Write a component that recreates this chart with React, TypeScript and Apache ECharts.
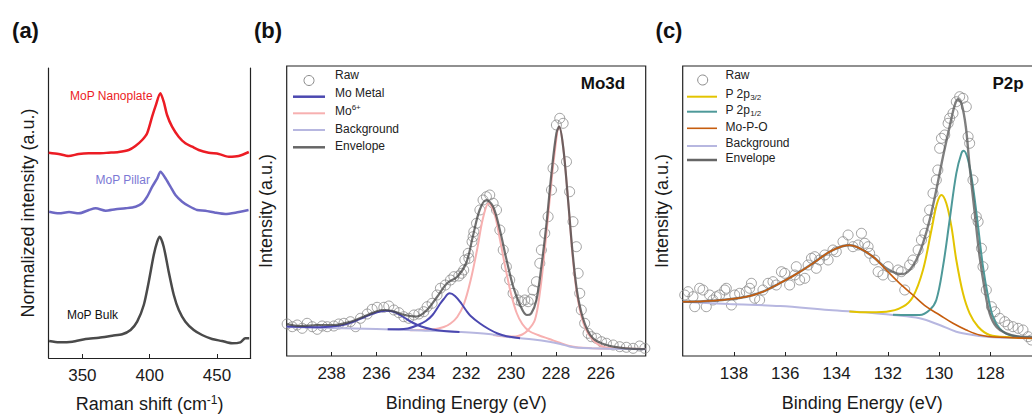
import React, { useEffect, useRef } from 'react';
import * as echarts from 'echarts';

const FONT = '"Liberation Sans", Arial, Helvetica, sans-serif';

// ---------- Panel (a): Raman ----------
const ramanTicks = [350, 400, 450];
const nanoShift = [325, 332.4, 339.8, 347.3, 354.7, 362.1, 369.5, 377, 384.4, 389.4, 394.4, 398.1, 401.8, 404.2, 407.9, 410.4, 412.9, 416.6, 421.5, 426.5, 431.5, 436.4, 443.8, 451.3, 458.7, 466.1, 473.6];
const nanoInt = [205.3, 204, 202, 204, 204.7, 204.7, 205.3, 206, 208, 212, 218, 224.7, 241.3, 251.3, 264.7, 256.3, 243, 231.3, 221.3, 214.7, 211.3, 208, 205.3, 204, 201.3, 202, 206];
const pillarShift = [325.3, 332.7, 340.1, 347.5, 354.9, 359.9, 367.3, 374.7, 382.1, 389.5, 394.4, 398.1, 401.9, 405.6, 408, 411.7, 415.4, 419.1, 424.1, 429, 435.2, 441.3, 448.7, 456.1, 463.6, 473.4];
const pillarInt = [146.3, 144.7, 146, 144.7, 148, 149.7, 147.3, 148.7, 149.7, 151.3, 154.7, 161.3, 171.3, 179.7, 186.3, 179.7, 171.3, 163, 156.3, 152, 148, 147.3, 145.3, 144, 145.3, 148];
const bulkShift = [325.3, 332.7, 342.6, 352.4, 362.3, 372.2, 379.6, 385.8, 390.7, 395.6, 399.3, 403, 405.6, 407.5, 410.4, 414.1, 417.9, 421.6, 426.5, 432.7, 438.9, 446.3, 453.7, 461.1, 467.3, 471, 473.9];
const bulkInt = [17, 15.7, 16.3, 19, 20.3, 22.3, 23.7, 28, 36.3, 53, 76.3, 103, 116.3, 121.3, 111.3, 86.3, 63, 48, 36.3, 28, 23, 19, 17, 14.7, 15.7, 19.7, 19.7];

// ---------- Panel (b): Mo3d ----------
const mo3dTicks = [226, 228, 230, 232, 234, 236, 238];
const rawMoBE = [239.98, 239.75, 239.53, 239.31, 239.09, 238.86, 238.64, 238.42, 238.19, 237.9, 237.68, 237.45, 237.16, 236.93, 236.71, 236.41, 236.19, 235.97, 235.67, 235.45, 235.22, 235.0, 234.78, 234.56, 234.33, 234.11, 233.89, 233.74, 233.52, 233.3, 233.15, 232.93, 232.7, 232.55, 232.33, 232.21, 232.11, 232.06, 231.91, 231.88, 231.74, 231.69, 231.66, 231.54, 231.39, 231.25, 231.1, 230.95, 230.8, 230.65, 230.5, 230.35, 230.21, 230.06, 229.91, 229.69, 229.54, 229.39, 229.24, 229.09, 229.02, 228.87, 228.72, 228.65, 228.5, 228.35, 228.2, 228.13, 227.98, 227.83, 227.68, 227.53, 227.39, 227.24, 227.09, 227.01, 226.94, 226.87, 226.72, 226.57, 226.42, 226.2, 225.97, 225.75, 225.45, 225.16, 224.86, 224.56, 224.27, 224.04];
const rawMoInt = [32, 29.3, 31, 27.7, 32.7, 29.3, 26.7, 30, 29.3, 30, 32, 32.7, 34.3, 29.3, 37.7, 42, 46.7, 48.7, 48.7, 50, 46, 43.3, 39.3, 37.7, 41, 42, 44.3, 49.3, 52.7, 61, 67.7, 71, 76, 79.3, 80, 82.7, 86, 96, 102.7, 97.7, 114.3, 119.3, 124.3, 132.7, 146, 156, 159.3, 161, 152.7, 146, 126, 106, 89.3, 76, 62.7, 56, 54.3, 56, 54.3, 56.7, 66, 74.3, 92.7, 106, 122.7, 139.3, 166, 187.7, 231, 237.7, 232.7, 194.3, 164.3, 134.3, 109.3, 82.7, 62.7, 46, 32.7, 22.7, 19.3, 17.7, 14.3, 12.7, 11, 9.3, 8.7, 7.7, 10, 7.7];
const bgMoBE = [240, 238, 236, 234, 232.3, 231, 230, 229, 228.3, 227.8, 227.4, 227, 226.4, 225, 224];
const bgMoInt = [29, 28, 27, 25.5, 24, 22, 18.7, 16.5, 14.3, 12, 9.5, 8.3, 7.7, 7, 6.8];
const metalA_BE = [240, 238.5, 238, 237.5, 237, 236.5, 236, 235.6, 235.2, 234.8, 234.4, 234, 233.5, 233, 232.3];
const metalA_Int = [29.5, 28.8, 29.5, 31, 34.5, 39.3, 43.5, 45.3, 44, 39, 33.5, 29.5, 26.5, 25, 24];
const metalB_BE = [235.5, 235, 234.6, 234.2, 233.8, 233.5, 233.2, 233, 232.74, 232.5, 232.2, 232, 231.8, 231.4, 231, 230.6, 230.2, 229.6];
const metalB_Int = [26.7, 26.7, 27.5, 30.5, 35, 41, 51, 57, 62.7, 60, 52, 45.5, 40, 32.7, 27, 22.5, 19.8, 17.8];
const mo6A_BE = [234.5, 234, 233.5, 233, 232.7, 232.4, 232.1, 231.8, 231.5, 231.25, 231.0, 230.75, 230.5, 230.25, 230.0, 229.75, 229.5, 229.2, 228.8, 228.3, 227.8, 227.4, 227, 226.4, 225.6];
const mo6A_Int = [25.8, 26, 26.5, 29, 32.5, 39, 52, 76, 108, 138, 152.7, 143, 117, 88, 62, 43, 32, 25, 21, 17, 13, 10, 8.5, 7.8, 7.2];
const mo6B_BE = [230.8, 230.3, 229.8, 229.5, 229.24, 228.94, 228.72, 228.5, 228.28, 228.06, 227.86, 227.68, 227.46, 227.24, 227.02, 226.72, 226.35, 225.9, 225.2, 224];
const mo6B_Int = [21, 19.6, 19.6, 21.5, 26, 36, 62.7, 106, 156, 202.7, 229.3, 209.3, 156, 96, 56, 29.3, 16, 9.3, 7.7, 7];
const envMoBE = [240, 239.4, 238.6, 237.9, 237.15, 236.4, 235.7, 235.3, 234.9, 234.5, 234.2, 233.75, 233.3, 232.85, 232.4, 232.0, 231.7, 231.4, 231.1, 230.8, 230.5, 230.2, 229.9, 229.6, 229.3, 229.1, 228.87, 228.65, 228.42, 228.2, 227.98, 227.86, 227.68, 227.46, 227.24, 227.02, 226.72, 226.35, 225.75, 224.9, 224];
const envMoInt = [32, 30, 31, 31, 34.3, 41, 46, 45, 42, 40, 39.5, 46, 59, 72.7, 79.3, 93, 120, 146, 156, 149.3, 126, 96, 69, 51, 41, 42.7, 56, 89.3, 132.7, 182.7, 222.7, 229.3, 209.3, 156, 99.3, 59.3, 32.7, 17.7, 11, 7.7, 7];

// ---------- Panel (c): P2p ----------
const p2pTicks = [128, 130, 132, 134, 136, 138];
const rawPBE = [140.05, 139.92, 139.79, 139.6, 139.53, 139.34, 139.21, 139.08, 138.95, 138.82, 138.69, 138.56, 138.36, 138.3, 138.1, 137.97, 137.78, 137.52, 137.39, 137.32, 137.19, 137.0, 136.87, 136.67, 136.48, 136.35, 136.15, 136.02, 135.83, 135.63, 135.57, 135.44, 135.24, 135.11, 134.98, 134.85, 134.79, 134.66, 134.46, 134.33, 134.14, 134.01, 133.75, 133.55, 133.36, 133.16, 133.03, 132.9, 132.77, 132.71, 132.51, 132.38, 132.19, 131.99, 131.8, 131.6, 131.47, 131.34, 131.15, 131.02, 130.82, 130.69, 130.56, 130.43, 130.37, 130.24, 130.11, 130.05, 129.98, 129.91, 129.78, 129.65, 129.59, 129.46, 129.33, 129.2, 129.07, 128.94, 128.87, 128.81, 128.68, 128.55, 128.48, 128.35, 128.29, 128.16, 127.96, 127.83, 127.64, 127.44, 127.31, 127.12, 126.92, 126.73, 126.53, 126.4];
const rawPInt = [46, 61, 64.3, 59.3, 49.3, 67.7, 66, 49.3, 61, 56, 59.3, 61, 66, 67.7, 51, 61, 62.7, 64.3, 67.7, 72.7, 57.7, 56, 66, 72.7, 74.3, 71, 84.3, 82.7, 71, 81, 89.3, 76, 77.7, 91, 97.7, 99.3, 87.7, 96, 101, 96, 106, 104.3, 114.3, 121, 109.3, 111, 122.7, 112.7, 109.3, 102.7, 96, 84.3, 81, 89.3, 79.3, 86, 84.3, 66, 91, 96, 106, 116, 122.7, 136, 146, 162.7, 176, 186, 207.7, 217.7, 221, 232.7, 237.7, 242.7, 254.3, 259.3, 257.7, 249.3, 219.3, 212.7, 176, 139.3, 134.3, 107.7, 89.3, 66, 49.3, 44.3, 37.7, 34.3, 31, 29.3, 27.7, 26, 19.3, 16];
const bgPBE = [140, 138.2, 136.2, 134.3, 132.7, 131.8, 130.76, 129.98, 129.33, 128.68, 127.9, 126];
const bgPInt = [54.3, 52, 50, 46, 43.3, 41, 37.7, 31, 24.3, 21, 18.7, 17.7];
const p32BE = [133.5, 133, 132.06, 131.41, 131.02, 130.63, 130.3, 130.08, 129.91, 129.72, 129.52, 129.33, 129.07, 128.81, 128.48, 128.03, 127.25, 126];
const p32Int = [44.6, 43.8, 44.3, 49.3, 59.3, 86, 126, 152.7, 161, 152.7, 129.3, 96, 62.7, 42.7, 29.3, 21, 18.7, 17.7];
const p12BE = [131.8, 130.76, 130.37, 130.11, 129.85, 129.59, 129.33, 129.13, 129.04, 128.87, 128.68, 128.48, 128.29, 128.09, 127.9, 127.64, 127.25, 126];
const p12Int = [41.3, 41, 46, 56, 89.3, 136, 182.7, 202.7, 205.3, 196, 169.3, 129.3, 89.3, 59.3, 39.3, 27.7, 21, 17.7];
const mpoBE = [140, 138.82, 137.52, 136.87, 136.22, 135.57, 134.92, 134.27, 133.75, 133.49, 133.1, 132.58, 132.06, 131.54, 131.02, 130.5, 129.98, 129.46, 128.94, 128.42, 127.64, 126];
const mpoInt = [54.3, 55.3, 59.3, 64.3, 72.7, 82, 92.7, 104.3, 110, 110.7, 107.7, 99.3, 86, 72.7, 61, 49.3, 41, 32.7, 26, 21, 18.7, 17.7];
const envPBE = [140, 138.82, 137.52, 136.87, 136.22, 135.57, 134.92, 134.27, 133.75, 133.49, 133.1, 132.58, 132.06, 131.67, 131.41, 131.15, 130.89, 130.63, 130.37, 130.11, 129.85, 129.59, 129.39, 129.26, 129.13, 128.96, 128.81, 128.61, 128.42, 128.22, 128.03, 127.77, 127.38, 126.86, 126];
const envPInt = [54.3, 55.3, 59.3, 64.3, 72.7, 82, 92.7, 104.3, 110, 110.7, 107.7, 99.3, 87.7, 82.7, 82, 86, 96, 112.7, 136, 166, 199.3, 229.3, 251, 256.7, 252.7, 229.3, 189.3, 142.7, 99.3, 66, 42.7, 29.3, 22.7, 19.3, 18.7];

const zip = (xs: number[], ys: number[]) => xs.map((x, i) => [x, ys[i]]);

const C = {
  red: '#ec1c24', pillar: '#6d68c4', bulk: '#4a4a4a',
  metal: '#4b48b0', mo6: '#f7b0b0', bg: '#b7b7e0', envB: 'rgba(70,70,70,0.78)', envC: 'rgba(95,95,95,0.8)',
  p32: '#e3c400', p12: '#4e9999', mpo: '#c65d0e', raw: '#8a8a8a', axis: '#222',
};

function buildOption() {
  const tickLabel = { fontSize: 17, color: '#1a1a1a', fontFamily: FONT, margin: 9 };
  const nameStyle = { fontSize: 18, color: '#1a1a1a', fontFamily: FONT };
  const hiddenY = (gridIndex: number, name?: string, gap?: number, line?: boolean) => ({
    type: 'value', gridIndex, min: 0, max: 290,
    axisLine: { show: !!line, lineStyle: { color: C.axis, width: 1.2 } },
    axisTick: { show: false }, axisLabel: { show: false }, splitLine: { show: false },
    name, nameLocation: 'middle', nameGap: gap, nameTextStyle: nameStyle,
  });
  const line = (name: string, xi: number, data: number[][], color: string, width: number, smooth = 0.35) => ({
    type: 'line', name, xAxisIndex: xi, yAxisIndex: xi === 0 ? 0 : xi + 1, data,
    showSymbol: false, symbol: 'none', smooth, lineStyle: { color, width }, silent: true,
  });
  const raw = (xi: number, data: number[][]) => ({
    type: 'scatter', name: 'Raw', xAxisIndex: xi, yAxisIndex: xi + 1, data, symbol: 'circle', symbolSize: 10,
    itemStyle: { color: 'rgba(0,0,0,0)', borderColor: C.raw, borderWidth: 1 }, silent: true,
  });
  const legendText = (x: number, y: number, text: string, rich?: any) => ({
    type: 'text', x, y,
    style: { text, fill: '#222', fontSize: 12, fontFamily: FONT, textVerticalAlign: 'middle', rich },
  });
  const legendLine = (x1: number, x2: number, y: number, stroke: string, w: number) => ({
    type: 'line', shape: { x1, y1: y, x2, y2: y }, style: { stroke, lineWidth: w },
  });
  const subRich = {
    n: { fontSize: 12, fontFamily: FONT, fill: '#222', lineHeight: 15 },
    s: { fontSize: 8, fontFamily: FONT, fill: '#222', verticalAlign: 'bottom', lineHeight: 15 },
  };
  const supRich = {
    n: { fontSize: 12, fontFamily: FONT, fill: '#222', lineHeight: 15 },
    s: { fontSize: 8, fontFamily: FONT, fill: '#222', verticalAlign: 'top', lineHeight: 15 },
  };
  const bold = (x: number, y: number, text: string, size: number) => ({
    type: 'text', x, y,
    style: { text, fontSize: size, fontWeight: 'bold', fontFamily: FONT, fill: '#111', textAlign: 'center', textVerticalAlign: 'middle' },
  });
  const note = (x: number, y: number, text: string, fill: string) => ({
    type: 'text', x, y,
    style: { text, fontSize: 12, fontFamily: FONT, fill, textAlign: 'center', textVerticalAlign: 'middle' },
  });

  return {
    animation: false,
    backgroundColor: '#ffffff',
    grid: [
      { left: 48.7, top: 68, width: 202, height: 290, outerBoundsMode: 'none', containLabel: false },
      { left: 286.7, top: 66, width: 359, height: 290, show: true, borderColor: C.axis, borderWidth: 1.2, outerBoundsMode: 'none', containLabel: false },
      { left: 682.7, top: 66, width: 359, height: 290, show: true, borderColor: C.axis, borderWidth: 1.2, outerBoundsMode: 'none', containLabel: false },
    ],
    xAxis: [
      {
        type: 'value', gridIndex: 0, min: 325, max: 475,
        axisLine: { show: true, onZero: false, lineStyle: { color: C.axis, width: 1.2 } },
        axisTick: { show: true, inside: true, length: 4, customValues: ramanTicks, lineStyle: { color: C.axis } },
        axisLabel: { ...tickLabel, customValues: ramanTicks },
        splitLine: { show: false },
        name: 'Raman shift (cm{sup|-1})', nameLocation: 'middle', nameGap: 36,
        nameTextStyle: { ...nameStyle, lineHeight: 20, rich: { sup: { fontSize: 12, fontFamily: FONT, color: '#1a1a1a', verticalAlign: 'top', lineHeight: 20 } } },
      },
      {
        type: 'value', gridIndex: 1, min: 224, max: 240, inverse: true,
        axisLine: { show: false },
        axisTick: { show: true, inside: true, length: 4, customValues: mo3dTicks, lineStyle: { color: C.axis } },
        axisLabel: { ...tickLabel, customValues: mo3dTicks },
        splitLine: { show: false },
        name: 'Binding Energy (eV)', nameLocation: 'middle', nameGap: 38, nameTextStyle: nameStyle,
      },
      {
        type: 'value', gridIndex: 2, min: 126, max: 140, inverse: true,
        axisLine: { show: false },
        axisTick: { show: true, inside: true, length: 4, customValues: p2pTicks, lineStyle: { color: C.axis } },
        axisLabel: { ...tickLabel, customValues: p2pTicks },
        splitLine: { show: false },
        name: 'Binding Energy (eV)', nameLocation: 'middle', nameGap: 38, nameTextStyle: nameStyle,
      },
    ],
    yAxis: [
      hiddenY(0, 'Normalized intensity (a.u.)', 12, true),
      { ...hiddenY(0, undefined, undefined, true), position: 'right' },
      hiddenY(1, 'Intensity (a.u.)', 12, false),
      hiddenY(2, 'Intensity (a.u.)', 12, false),
    ],
    series: [
      line('MoP Nanoplate', 0, zip(nanoShift, nanoInt), C.red, 2.5, 0.25),
      line('MoP Pillar', 0, zip(pillarShift, pillarInt), C.pillar, 2.5, 0.25),
      line('MoP Bulk', 0, zip(bulkShift, bulkInt), C.bulk, 2.5, 0.25),

      raw(1, zip(rawMoBE, rawMoInt)),
      line('Mo6+', 1, zip(mo6A_BE, mo6A_Int), C.mo6, 2),
      line('Mo6+', 1, zip(mo6B_BE, mo6B_Int), C.mo6, 2),
      line('Background', 1, zip(bgMoBE, bgMoInt), C.bg, 2),
      line('Mo Metal', 1, zip(metalA_BE, metalA_Int), C.metal, 2),
      line('Mo Metal', 1, zip(metalB_BE, metalB_Int), C.metal, 2),
      line('Envelope', 1, zip(envMoBE, envMoInt), C.envB, 2.2),

      raw(2, zip(rawPBE, rawPInt)),
      line('Background', 2, zip(bgPBE, bgPInt), C.bg, 2),
      line('P 2p3/2', 2, zip(p32BE, p32Int), C.p32, 2),
      line('P 2p1/2', 2, zip(p12BE, p12Int), C.p12, 2),
      line('Envelope', 2, zip(envPBE, envPInt), C.envC, 2.4),
      line('Mo-P-O', 2, zip(mpoBE, mpoInt), C.mpo, 1.6),
    ],
    graphic: [
      bold(25.5, 30, '(a)', 22),
      bold(268, 30, '(b)', 22),
      bold(669, 30, '(c)', 22),

      note(111.3, 96, 'MoP Nanoplate', C.red),
      note(122.7, 180, 'MoP Pillar', '#7b78d4'),
      note(92.5, 315, 'MoP Bulk', '#111'),

      bold(603, 83, 'Mo3d', 17),
      bold(1008, 83, 'P2p', 17),

      // legend (b)
      { type: 'circle', shape: { cx: 309, cy: 80.5, r: 5 }, style: { fill: 'none', stroke: C.raw, lineWidth: 1 } },
      legendText(335, 75, 'Raw'),
      legendLine(293, 325, 96.7, C.metal, 2.5),
      legendText(335, 93.3, 'Mo Metal'),
      legendLine(293, 325, 113.3, C.mo6, 2),
      legendText(335, 110.5, '{n|Mo}{s|6+}', supRich),
      legendLine(293, 325, 130, C.bg, 2),
      legendText(335, 129, 'Background'),
      legendLine(293, 325, 147.3, '#666', 2.5),
      legendText(335, 146, 'Envelope'),

      // legend (c)
      { type: 'circle', shape: { cx: 702.7, cy: 80, r: 5 }, style: { fill: 'none', stroke: C.raw, lineWidth: 1 } },
      legendText(725.5, 75, 'Raw'),
      legendLine(687, 717, 96.7, C.p32, 2),
      legendText(725.5, 94, '{n|P 2p}{s|3/2}', subRich),
      legendLine(687, 717, 111.7, C.p12, 2),
      legendText(725.5, 110, '{n|P 2p}{s|1/2}', subRich),
      legendLine(687, 717, 128.3, C.mpo, 1.6),
      legendText(725.5, 126.7, 'Mo-P-O'),
      legendLine(687, 717, 146, C.bg, 2),
      legendText(725.5, 143.3, 'Background'),
      legendLine(687, 717, 160, '#666', 2.5),
      legendText(725.5, 158.3, 'Envelope'),
    ],
  };
}

export default function App() {
  const ref = useRef<HTMLDivElement>(null);
  useEffect(() => {
    if (!ref.current) return;
    const chart = echarts.init(ref.current, null, { renderer: 'svg' });
    chart.setOption(buildOption() as any);
    return () => chart.dispose();
  }, []);
  return (
    <div style={{ position: 'absolute', left: 0, top: 0, width: 1032, height: 414, overflow: 'hidden', background: '#fff' }}>
      <div ref={ref} style={{ width: 1060, height: 414 }} />
    </div>
  );
}
